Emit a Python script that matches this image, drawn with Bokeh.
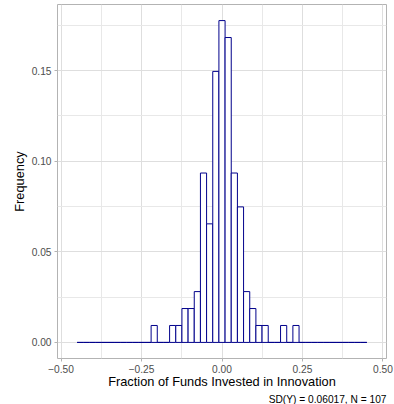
from bokeh.plotting import figure
from bokeh.models import FixedTicker, Title
from bokeh.embed import file_html
from bokeh.resources import INLINE
import numpy as np

# ---- data ----
bin_low = -0.45
bin_high = 0.45
n_bins = 47
counts = [0, 0, 0, 0, 0, 0, 0, 0, 0, 0, 0, 0,
          1, 0, 0,
          1, 1, 2, 2, 3, 10, 7, 16, 19, 18, 10, 8, 3, 2, 1, 1,
          0, 0, 1, 0, 1,
          0, 0, 0, 0, 0, 0, 0, 0, 0, 0, 0]
n_obs = 107
sd_y = 0.06017
x_ticks = [-0.5, -0.25, 0.0, 0.25, 0.5]
x_tick_labels = ["\u22120.50", "\u22120.25", "0.00", "0.25", "0.50"]
x_minor = [-0.375, -0.125, 0.125, 0.375]
y_ticks = [0.0, 0.05, 0.10, 0.15]
y_tick_labels = ["0.00", "0.05", "0.10", "0.15"]
y_minor = [0.025, 0.075, 0.125, 0.175]

edges = np.linspace(bin_low, bin_high, n_bins + 1)
freq = np.array(counts) / n_obs

FONT = "Liberation Sans"

p = figure(width=394, height=404, output_backend="svg", toolbar_location=None,
           x_range=(-0.511, 0.511), y_range=(-0.00888, 0.18645),
           min_border_left=57, min_border_right=8, min_border_top=4, min_border_bottom=44)

p.background_fill_color = "white"
p.border_fill_color = "white"
p.outline_line_color = "#B3B3B3"
p.outline_line_width = 1

p.quad(left=edges[:-1], right=edges[1:], bottom=0, top=freq,
       fill_color="white", line_color="#00008B", line_width=1)

p.xaxis.ticker = FixedTicker(ticks=x_ticks, minor_ticks=x_minor)
p.yaxis.ticker = FixedTicker(ticks=y_ticks, minor_ticks=y_minor)
p.xaxis.major_label_overrides = dict(zip(x_ticks, x_tick_labels))
p.yaxis.major_label_overrides = dict(zip(y_ticks, y_tick_labels))

for ax in (p.xaxis, p.yaxis):
    ax.axis_line_color = None
    ax.major_tick_in = 0
    ax.major_tick_out = 3
    ax.major_tick_line_color = "#B3B3B3"
    ax.minor_tick_line_color = None
    ax.major_label_text_font = FONT
    ax.major_label_text_font_size = "10.2px"
    ax.major_label_text_color = "#4D4D4D"
    ax.axis_label_text_font = FONT
    ax.axis_label_text_font_size = "12.8px"
    ax.axis_label_text_font_style = "normal"
    ax.axis_label_text_color = "black"

p.xaxis.axis_label = "Fraction of Funds Invested in Innovation"
p.yaxis.axis_label = "Frequency"
p.xaxis.major_label_standoff = 2
p.xaxis.axis_label_standoff = -2
p.yaxis.major_label_standoff = 2
p.yaxis.axis_label_standoff = 2

for g in (p.xgrid, p.ygrid):
    g.grid_line_color = "#DEDEDE"
    g.grid_line_width = 1
    g.minor_grid_line_color = "#E8E8E8"
    g.minor_grid_line_width = 1

cap = Title(text=f"SD(Y) = {sd_y}, N = {n_obs}", align="right",
            text_font=FONT, text_font_size="10.2px", text_font_style="normal",
            text_color="black", standoff=0, offset=0)
p.add_layout(cap, "below")

open("out.html", "w").write(file_html(p, INLINE))
